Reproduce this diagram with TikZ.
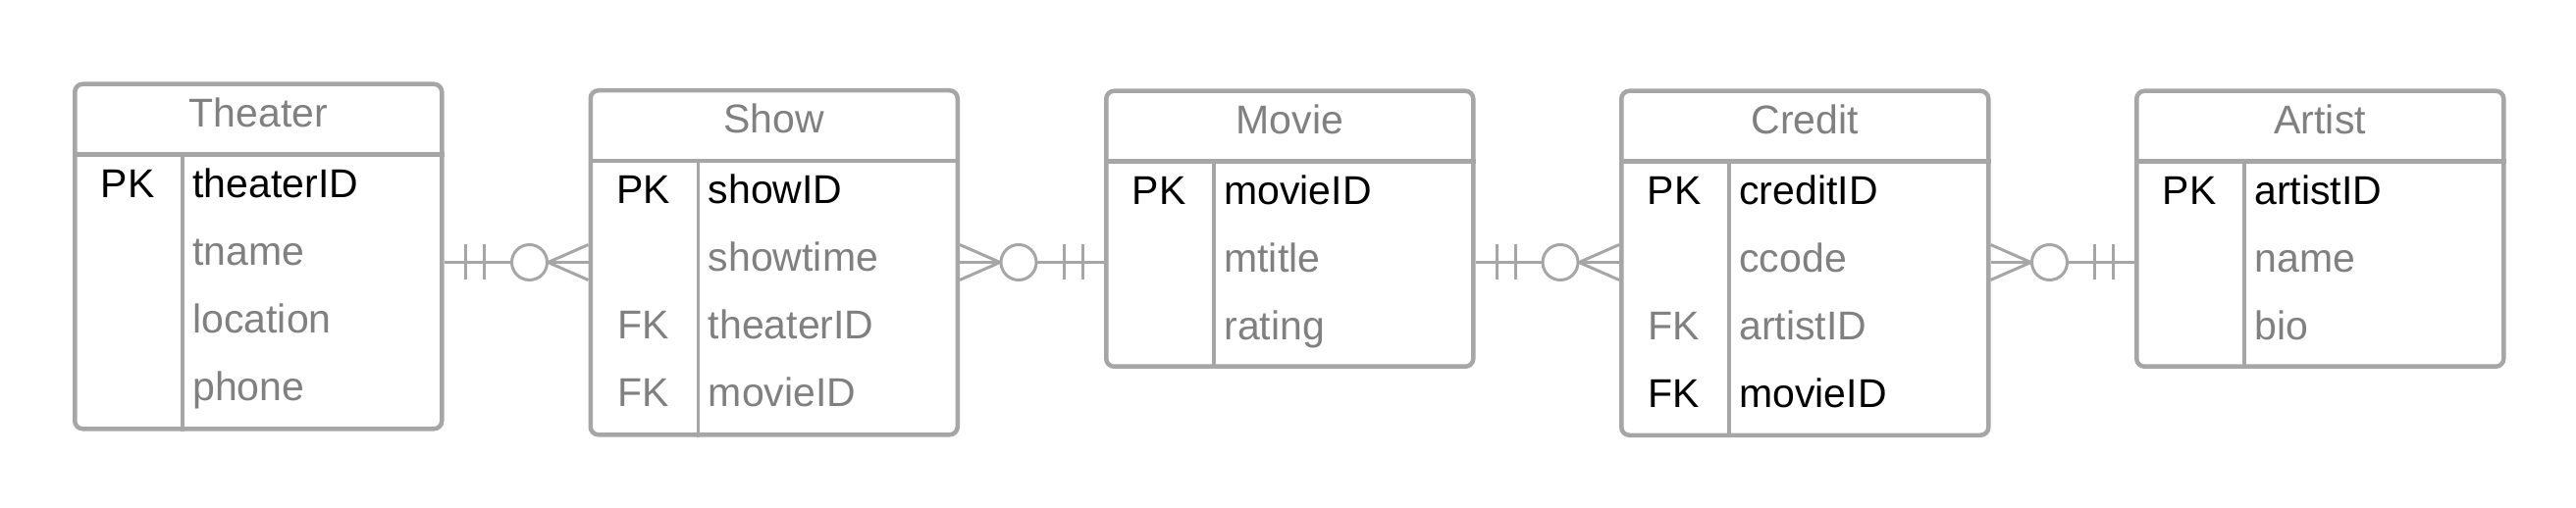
\documentclass[tikz,border=0pt]{standalone}
\usepackage{fontspec}
\setmainfont{Liberation Sans}
\usetikzlibrary{positioning}

\definecolor{erline}{HTML}{A6A6A6}
\definecolor{ertext}{HTML}{808080}

\tikzset{
  entity/.style={draw=erline, line width=2.25pt, rounded corners=4pt,
    minimum width=187pt, anchor=north west, inner sep=0pt},
  headsep/.style={draw=erline, line width=2.25pt},
  colsep/.style={draw=erline, line width=1.75pt},
  title/.style={anchor=base, inner sep=0pt, text=ertext,
    font=\fontsize{20.5}{24}\selectfont},
  keycol/.style={anchor=base, inner sep=0pt, font=\fontsize{20.5}{24}\selectfont},
  fieldcol/.style={anchor=base west, inner sep=0pt, font=\fontsize{20.5}{24}\selectfont},
  rel/.style={draw=erline, line width=1.5pt},
  onemark/.pic={\draw[rel] (22,-18) -- (22,18) (41,-18) -- (41,18);},
  manymark/.pic={\draw[rel] (-41,0) -- (0,-18) (-41,0) -- (0,18);
    \draw[rel, fill=white] (-60,0) circle [radius=18];}
}

\begin{document}
\begin{tikzpicture}[x=0.5pt, y=-0.5pt]
  \useasboundingbox (0,0) rectangle (2625,518);

  % entity boxes
  \node[entity, minimum height=175.75pt] (theater) at (74,83.5)   {};
  \node[entity, minimum height=175.5pt]  (show)    at (599.5,90)  {};
  \node[entity, minimum height=140.5pt]  (movie)   at (1125,90.5) {};
  \node[entity, minimum height=175.5pt]  (credit)  at (1650,90.5) {};
  \node[entity, minimum height=140.5pt]  (artist)  at (2175,90.5) {};

  % header line and key column of each box
  \foreach \e in {theater,show,movie,credit,artist} {
    \draw[headsep] ([yshift=-37pt]\e.north west) -- ([yshift=-37pt]\e.north east);
    \draw[colsep] ([xshift=56pt,yshift=-37pt]\e.north west) -- ([xshift=56pt]\e.south west);
  }

  % titles
  \node[title] (theater-t) at ([shift={(0,46)}]theater.north) {Theater};
  \node[title] (show-t)    at ([shift={(0,46)}]show.north)    {Show};
  \node[title] (movie-t)   at ([shift={(0,46)}]movie.north)   {Movie};
  \node[title] (credit-t)  at ([shift={(0,46)}]credit.north)  {Credit};
  \node[title] (artist-t)  at ([shift={(0,46)}]artist.north)  {Artist};

  % rows
  \foreach \k/\f/\c [count=\i from 0] in
      {PK/theaterID/black, /tname/ertext, /location/ertext, /phone/ertext} {
    \node[keycol, text=\c] (theater-k\i) at ([shift={(56,118+69*\i)}]theater.north west) {\k};
    \node[fieldcol, text=\c] (theater-f\i) at ([shift={(122,118+69*\i)}]theater.north west) {\f};
  }
  \foreach \k/\f/\c [count=\i from 0] in
      {PK/showID/black, /showtime/ertext, FK/theaterID/ertext, FK/movieID/ertext} {
    \node[keycol, text=\c] (show-k\i) at ([shift={(56,118+69*\i)}]show.north west) {\k};
    \node[fieldcol, text=\c] (show-f\i) at ([shift={(122,118+69*\i)}]show.north west) {\f};
  }
  \foreach \k/\f/\c [count=\i from 0] in
      {PK/movieID/black, /mtitle/ertext, /rating/ertext} {
    \node[keycol, text=\c] (movie-k\i) at ([shift={(56,118+69*\i)}]movie.north west) {\k};
    \node[fieldcol, text=\c] (movie-f\i) at ([shift={(122,118+69*\i)}]movie.north west) {\f};
  }
  \foreach \k/\f/\c [count=\i from 0] in
      {PK/creditID/black, /ccode/ertext, FK/artistID/ertext, FK/movieID/black} {
    \node[keycol, text=\c] (credit-k\i) at ([shift={(56,118+69*\i)}]credit.north west) {\k};
    \node[fieldcol, text=\c] (credit-f\i) at ([shift={(122,118+69*\i)}]credit.north west) {\f};
  }
  \foreach \k/\f/\c [count=\i from 0] in
      {PK/artistID/black, /name/ertext, /bio/ertext} {
    \node[keycol, text=\c] (artist-k\i) at ([shift={(56,118+69*\i)}]artist.north west) {\k};
    \node[fieldcol, text=\c] (artist-f\i) at ([shift={(122,118+69*\i)}]artist.north west) {\f};
  }

  % relationships
  \coordinate (link) at (0,267.5);
  \draw[rel] (theater.east |- link) -- (show.west |- link);
  \draw[rel] (show.east |- link)    -- (movie.west |- link);
  \draw[rel] (movie.east |- link)   -- (credit.west |- link);
  \draw[rel] (credit.east |- link)  -- (artist.west |- link);

  \pic at (theater.east |- link) {onemark};
  \pic at (show.west |- link) {manymark};
  \pic[xscale=-1] at (show.east |- link) {manymark};
  \pic[xscale=-1] at (movie.west |- link) {onemark};
  \pic at (movie.east |- link) {onemark};
  \pic at (credit.west |- link) {manymark};
  \pic[xscale=-1] at (credit.east |- link) {manymark};
  \pic[xscale=-1] at (artist.west |- link) {onemark};

\end{tikzpicture}
\end{document}
